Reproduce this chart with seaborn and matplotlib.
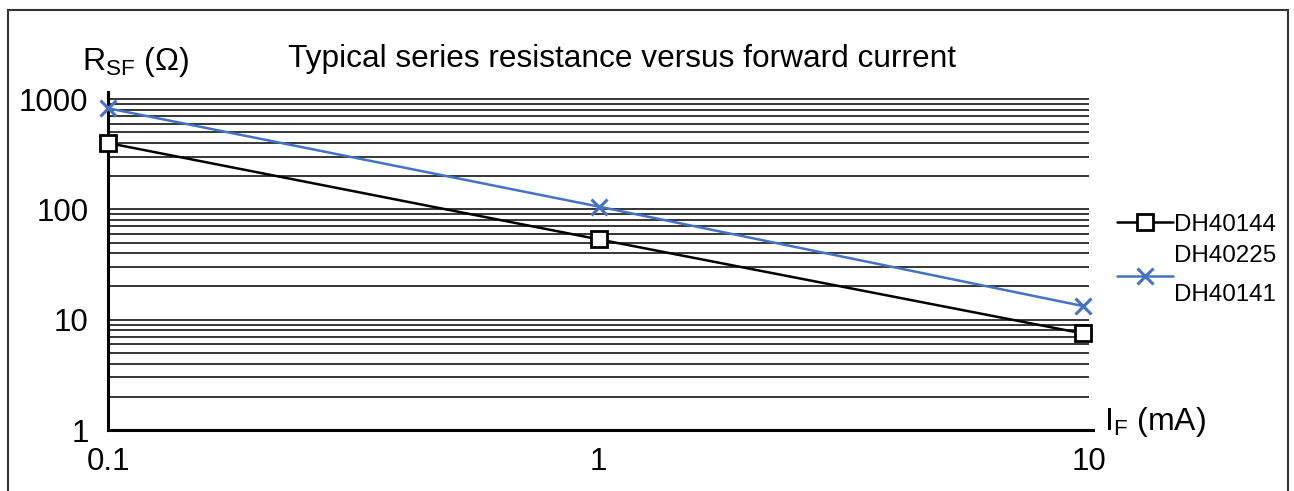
import numpy as np
import pandas as pd
import seaborn as sns
import matplotlib.pyplot as plt
from matplotlib.patches import Rectangle
from matplotlib.lines import Line2D

# values (log-log)
current_ma = [0.1, 1, 9.7]
r_dh40144 = [400, 53.5, 7.5]
r_dh40225 = [825, 106, 13.3]
x_ticks = [0.1, 1, 10]
x_tick_labels = ['0.1', '1', '10']
y_ticks = [1, 10, 100, 1000]
y_tick_labels = ['1', '10', '100', '1000']

df = pd.DataFrame({'I': current_ma * 2,
                   'R': r_dh40144 + r_dh40225,
                   'part': ['DH40144'] * 3 + ['DH40225\nDH40141'] * 3})

sns.set_style('white')
plt.rcParams['font.family'] = ['Liberation Sans', 'DejaVu Sans']
plt.rcParams['mathtext.default'] = 'regular'
plt.rcParams['text.color'] = 'black'
plt.rcParams['xtick.labelcolor'] = 'black'
plt.rcParams['ytick.labelcolor'] = 'black'

fig = plt.figure(figsize=(12.94, 4.91), dpi=100)
ax = fig.add_axes([0.0835, 0.1242, 0.8447 - 0.0835, 0.8126 - 0.1242])

# horizontal grid at 2..10 of each decade
grid_vals = [m * 10 ** d for d in range(0, 3) for m in range(2, 11)]
ax.hlines(grid_vals, 0.1, 10, colors='black', linewidth=1.1, zorder=1)

blue = '#4472C4'
sns.lineplot(data=df[df.part == 'DH40144'], x='I', y='R', ax=ax, color='black',
             linewidth=1.8, marker='s', markersize=11.5, markerfacecolor='white',
             markeredgecolor='black', markeredgewidth=2, zorder=3, legend=False,
             clip_on=False)
sns.lineplot(data=df[df.part != 'DH40144'], x='I', y='R', ax=ax, color=blue,
             linewidth=1.8, marker='x', markersize=11, markeredgecolor=blue,
             markeredgewidth=2.2, zorder=3, legend=False, clip_on=False)

ax.set_xscale('log')
ax.set_yscale('log')
ax.set_xlim(0.1, 10.17)
ax.set_ylim(1, 1159)
ax.set_xticks(x_ticks, x_tick_labels)
ax.set_yticks(y_ticks, y_tick_labels)
ax.minorticks_off()
ax.tick_params(axis='both', length=0, labelsize=22.5, labelcolor='black')
ax.tick_params(axis='x', pad=12)
ax.tick_params(axis='y', pad=14)
ax.set_xlabel('')
ax.set_ylabel('')
for s in ['top', 'right']:
    ax.spines[s].set_visible(False)
for s in ['left', 'bottom']:
    ax.spines[s].set_color('black')
    ax.spines[s].set_linewidth(2.2)

fig.text(82 / 1294, 1 - 70 / 491, r'R$_{SF}$ (Ω)', fontsize=23, ha='left', va='baseline')
fig.text(622 / 1294, 1 - 67 / 491, 'Typical series resistance versus forward current',
         fontsize=22.8, ha='center', va='baseline')
fig.text(1104 / 1294, 1 - 430 / 491, r'I$_{F}$ (mA)', fontsize=23, ha='left', va='baseline')

handles = [Line2D([], [], color='black', lw=1.8, marker='s', markersize=11.5,
                  markerfacecolor='white', markeredgewidth=2),
           Line2D([], [], color=blue, lw=1.8, marker='x', markersize=11, markeredgewidth=2.2)]
leg = fig.legend(handles, ['DH40144', 'DH40225\nDH40141'], loc='center left',
                 bbox_to_anchor=(1117 / 1294, 1 - 260 / 491), frameon=False,
                 fontsize=17.4, handlelength=2.3, handletextpad=0.05, labelspacing=0.4,
                 borderpad=0, borderaxespad=0)
leg.get_texts()[1].set_linespacing(2.0)

fig.patches.append(Rectangle((8 / 1294, -0.05), 1280 / 1294, 1.05 - 10 / 491,
                             transform=fig.transFigure, fill=False,
                             edgecolor='#333333', linewidth=1.5))

fig.savefig('out.png', dpi=100)
